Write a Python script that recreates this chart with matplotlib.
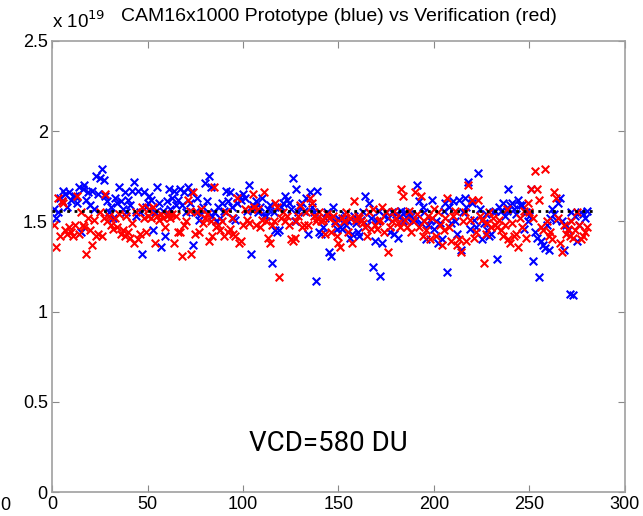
import numpy as np
import matplotlib
matplotlib.use('Agg')
import matplotlib.pyplot as plt

plt.rcParams['font.family'] = ['Liberation Sans', 'DejaVu Sans']

# valores em unidades de 1e19
prototipo = [
    1.57, 1.52, 1.55, 1.63, 1.61, 1.67, 1.65, 1.58, 1.66, 1.62,
    1.64, 1.64, 1.60, 1.69, 1.44, 1.68, 1.70, 1.62, 1.66, 1.59,
    1.67, 1.57, 1.75, 1.65, 1.74, 1.79, 1.73, 1.64, 1.61, 1.55,
    1.58, 1.52, 1.63, 1.60, 1.69, 1.61, 1.57, 1.66, 1.55, 1.62,
    1.59, 1.67, 1.72, 1.53, 1.67, 1.55, 1.32, 1.66, 1.58, 1.60,
    1.64, 1.62, 1.45, 1.55, 1.69, 1.60, 1.36, 1.56, 1.42, 1.61,
    1.68, 1.57, 1.63, 1.67, 1.59, 1.62, 1.68, 1.59, 1.66, 1.55,
    1.69, 1.60, 1.66, 1.37, 1.55, 1.63, 1.51, 1.54, 1.58, 1.71,
    1.61, 1.75, 1.69, 1.53, 1.55, 1.50, 1.58, 1.52, 1.60, 1.56,
    1.67, 1.61, 1.66, 1.58, 1.52, 1.51, 1.60, 1.64, 1.62, 1.65,
    1.63, 1.56, 1.70, 1.32, 1.59, 1.57, 1.61, 1.55, 1.58, 1.63,
    1.53, 1.53, 1.57, 1.59, 1.27, 1.55, 1.45, 1.44, 1.45, 1.58,
    1.60, 1.64, 1.62, 1.60, 1.57, 1.74, 1.50, 1.68, 1.55, 1.58,
    1.60, 1.56, 1.63, 1.43, 1.66, 1.58, 1.55, 1.17, 1.67, 1.44,
    1.43, 1.47, 1.52, 1.55, 1.33, 1.31, 1.58, 1.50, 1.46, 1.52,
    1.47, 1.46, 1.54, 1.48, 1.50, 1.41, 1.43, 1.53, 1.49, 1.44,
    1.42, 1.51, 1.55, 1.64, 1.48, 1.60, 1.52, 1.25, 1.39, 1.50,
    1.56, 1.20, 1.38, 1.53, 1.55, 1.52, 1.44, 1.55, 1.43, 1.54,
    1.41, 1.53, 1.56, 1.50, 1.55, 1.52, 1.54, 1.53, 1.52, 1.51,
    1.70, 1.61, 1.49, 1.58, 1.55, 1.40, 1.48, 1.51, 1.62, 1.46,
    1.50, 1.38, 1.49, 1.40, 1.56, 1.60, 1.22, 1.58, 1.49, 1.61,
    1.50, 1.43, 1.62, 1.34, 1.55, 1.63, 1.58, 1.72, 1.46, 1.60,
    1.51, 1.47, 1.77, 1.57, 1.40, 1.49, 1.54, 1.45, 1.42, 1.43,
    1.55, 1.56, 1.29, 1.58, 1.56, 1.60, 1.53, 1.56, 1.68, 1.59,
    1.60, 1.57, 1.54, 1.62, 1.59, 1.59, 1.46, 1.55, 1.50, 1.53,
    1.68, 1.28, 1.44, 1.41, 1.19, 1.39, 1.37, 1.35, 1.48, 1.34,
    1.52, 1.57, 1.54, 1.51, 1.60, 1.63, 1.50, 1.34, 1.48, 1.45,
    1.10, 1.55, 1.09, 1.53, 1.39, 1.48, 1.55, 1.54, 1.52, 1.56,
]

verificacao = [
    1.48, 1.36, 1.63, 1.42, 1.61, 1.60, 1.45, 1.43, 1.47, 1.44,
    1.42, 1.48, 1.64, 1.43, 1.55, 1.48, 1.47, 1.32, 1.52, 1.45,
    1.37, 1.51, 1.42, 1.43, 1.55, 1.42, 1.52, 1.65, 1.50, 1.53,
    1.48, 1.46, 1.52, 1.47, 1.54, 1.43, 1.45, 1.42, 1.53, 1.44,
    1.41, 1.49, 1.38, 1.55, 1.40, 1.43, 1.58, 1.52, 1.44, 1.53,
    1.57, 1.52, 1.58, 1.38, 1.53, 1.51, 1.54, 1.52, 1.47, 1.53,
    1.54, 1.52, 1.54, 1.38, 1.53, 1.44, 1.44, 1.31, 1.48, 1.50,
    1.62, 1.56, 1.32, 1.66, 1.43, 1.55, 1.44, 1.57, 1.49, 1.52,
    1.54, 1.39, 1.50, 1.42, 1.69, 1.47, 1.48, 1.45, 1.50, 1.42,
    1.55, 1.44, 1.46, 1.52, 1.43, 1.42, 1.63, 1.38, 1.39, 1.48,
    1.57, 1.51, 1.49, 1.57, 1.65, 1.58, 1.48, 1.57, 1.47, 1.51,
    1.66, 1.50, 1.41, 1.38, 1.48, 1.50, 1.60, 1.58, 1.19, 1.52,
    1.55, 1.50, 1.53, 1.48, 1.40, 1.39, 1.41, 1.50, 1.53, 1.59,
    1.47, 1.48, 1.55, 1.48, 1.63, 1.60, 1.53, 1.50, 1.52, 1.55,
    1.50, 1.51, 1.43, 1.54, 1.52, 1.44, 1.53, 1.49, 1.42, 1.38,
    1.36, 1.52, 1.50, 1.55, 1.44, 1.52, 1.38, 1.61, 1.51, 1.53,
    1.52, 1.50, 1.49, 1.47, 1.42, 1.55, 1.46, 1.57, 1.48, 1.46,
    1.50, 1.51, 1.58, 1.44, 1.55, 1.33, 1.47, 1.50, 1.56, 1.52,
    1.49, 1.47, 1.68, 1.64, 1.51, 1.47, 1.56, 1.44, 1.50, 1.66,
    1.54, 1.47, 1.64, 1.42, 1.50, 1.45, 1.53, 1.40, 1.52, 1.57,
    1.42, 1.55, 1.48, 1.37, 1.45, 1.52, 1.63, 1.47, 1.39, 1.53,
    1.56, 1.37, 1.40, 1.33, 1.50, 1.55, 1.39, 1.70, 1.51, 1.62,
    1.41, 1.44, 1.62, 1.53, 1.51, 1.27, 1.43, 1.49, 1.55, 1.47,
    1.52, 1.48, 1.47, 1.51, 1.45, 1.42, 1.48, 1.57, 1.40, 1.38,
    1.49, 1.42, 1.43, 1.36, 1.52, 1.47, 1.56, 1.41, 1.60, 1.55,
    1.68, 1.52, 1.78, 1.68, 1.62, 1.47, 1.45, 1.79, 1.50, 1.42,
    1.44, 1.40, 1.66, 1.63, 1.52, 1.38, 1.33, 1.48, 1.43, 1.46,
    1.42, 1.50, 1.41, 1.45, 1.55, 1.48, 1.40, 1.42, 1.44, 1.47,
]

nivel_ref = 1.56
x_ref = [0, 284]

x = np.arange(1, len(prototipo) + 1)

fig = plt.figure(figsize=(6.43, 5.16), dpi=100)
ax = fig.add_axes([0.0809, 0.046, 0.891, 0.875])

ax.scatter(x, prototipo, marker='x', color='#0000ff', s=30, linewidths=1.5, zorder=2)
ax.scatter(x, verificacao, marker='x', color='#ff0000', s=30, linewidths=1.5, zorder=2)
ax.plot(x_ref, [nivel_ref, nivel_ref], color='black', linestyle=':', linewidth=2, zorder=3)

ax.set_xlim(0, 300)
ax.set_ylim(0, 2.5)
ax.set_xticks([0, 50, 100, 150, 200, 250, 300])
ax.set_yticks([0, 0.5, 1, 1.5, 2, 2.5])
ax.set_yticklabels(['0', '0.5', '1', '1.5', '2', '2.5'])
ax.tick_params(direction='in', top=True, right=True, labelsize=13, length=5,
               color='#888888', pad=3)
for s in ax.spines.values():
    s.set_color('#a0a0a0')
    s.set_linewidth(1.2)

# titulo e fator de escala
ax.set_title('CAM16x1000 Prototype (blue) vs Verification (red)', fontsize=14, pad=14)
ax.text(0.0, 1.02, r'x 10$^{19}$', transform=ax.transAxes, fontsize=13.5, ha='left', va='bottom')

# texto dentro do grafico
ax.text(0.483, 0.109, 'VCD=580 DU', transform=ax.transAxes, fontsize=20,
        family='Roboto', ha='center', va='center')

# pedaco de rotulo de outro grafico na borda
fig.text(0.0, 0.02, '0', fontsize=13, ha='left', va='center')

fig.savefig('out.png', dpi=100)
